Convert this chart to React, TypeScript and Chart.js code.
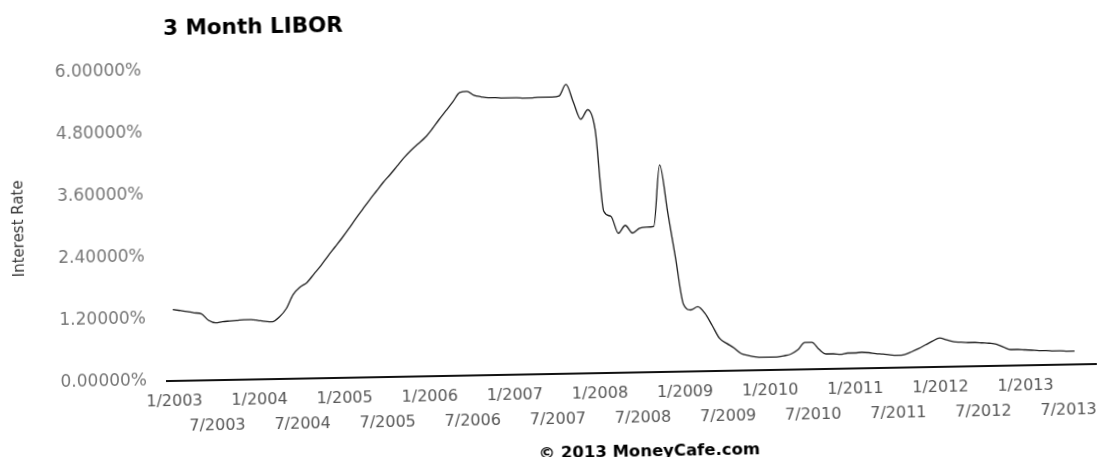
import React, { useEffect, useRef } from 'react';
import { Chart, registerables } from 'chart.js';

Chart.register(...registerables);

const TITLE = '3 Month LIBOR';
const FOOTER = '\u00A9 2013 MoneyCafe.com';
const Y_TITLE = 'Interest Rate';

// Monthly 3-month LIBOR (%), Jan of each year first
const rates2003 = [1.38, 1.36, 1.34, 1.31, 1.29, 1.16, 1.11, 1.13, 1.14, 1.15, 1.16, 1.16];
const rates2004 = [1.14, 1.12, 1.11, 1.20, 1.36, 1.63, 1.77, 1.86, 2.02, 2.18, 2.36, 2.53];
const rates2005 = [2.70, 2.88, 3.07, 3.25, 3.43, 3.60, 3.77, 3.92, 4.08, 4.24, 4.38, 4.50];
const rates2006 = [4.62, 4.78, 4.96, 5.13, 5.30, 5.48, 5.50, 5.42, 5.39, 5.37, 5.37, 5.36];
const rates2007 = [5.36, 5.36, 5.35, 5.35, 5.36, 5.36, 5.36, 5.38, 5.60, 5.25, 4.92, 5.10];
const rates2008 = [4.71, 3.13, 3.03, 2.70, 2.85, 2.70, 2.79, 2.81, 2.82, 4.01, 3.10, 2.20];
const rates2009 = [1.30, 1.19, 1.25, 1.12, 0.88, 0.63, 0.53, 0.44, 0.33, 0.29, 0.26, 0.25];
const rates2010 = [0.25, 0.25, 0.27, 0.30, 0.38, 0.52, 0.52, 0.38, 0.29, 0.29, 0.28, 0.30];
const rates2011 = [0.30, 0.31, 0.30, 0.28, 0.27, 0.25, 0.24, 0.25, 0.30, 0.36, 0.43, 0.50];
const rates2012 = [0.56, 0.52, 0.48, 0.47, 0.46, 0.46, 0.45, 0.44, 0.42, 0.36, 0.31, 0.31];
const rates2013 = [0.30, 0.29, 0.28, 0.28, 0.27, 0.27, 0.26, 0.26];

const rates = [
  ...rates2003, ...rates2004, ...rates2005, ...rates2006, ...rates2007, ...rates2008,
  ...rates2009, ...rates2010, ...rates2011, ...rates2012, ...rates2013,
];

const tickLabels = [
  '1/2003', '7/2003', '1/2004', '7/2004', '1/2005', '7/2005', '1/2006', '7/2006',
  '1/2007', '7/2007', '1/2008', '7/2008', '1/2009', '7/2009', '1/2010', '7/2010',
  '1/2011', '7/2011', '1/2012', '7/2012', '1/2013', '7/2013',
];
const tickMonths = tickLabels.map((_, i) => i * 6);
const yTicks = [0, 1.2, 2.4, 3.6, 4.8, 6.0];

const CANVAS_W = 1105;
const CANVAS_H = 480;

const textPlugin = {
  id: 'extraTexts',
  afterDraw(chart: any) {
    const ctx = chart.ctx;
    ctx.save();
    ctx.fillStyle = '#000';
    ctx.textBaseline = 'alphabetic';
    ctx.font = 'bold 21.5px "DejaVu Sans"';
    ctx.textAlign = 'left';
    ctx.fillText(TITLE, 169.5, 35);
    ctx.font = 'bold 16.5px "DejaVu Sans"';
    ctx.textAlign = 'center';
    ctx.fillText(FOOTER, 648, 465);
    ctx.restore();
  },
};

export default function App() {
  const ref = useRef<HTMLCanvasElement | null>(null);

  useEffect(() => {
    if (!ref.current) return;
    const chart = new Chart(ref.current, {
      type: 'line',
      data: {
        datasets: [
          {
            label: Y_TITLE,
            data: rates.map((v, i) => ({ x: i, y: v })),
            borderColor: '#1e1e1e',
            borderWidth: 1.3,
            pointRadius: 0,
            cubicInterpolationMode: 'monotone',
            fill: false,
          },
        ],
      },
      options: {
        responsive: false,
        animation: false,
        devicePixelRatio: 1,
        layout: { padding: { top: 71, left: 0, right: 0, bottom: 0 } },
        plugins: {
          legend: { display: false },
          tooltip: { enabled: false },
          title: { display: false },
        },
        scales: {
          x: {
            type: 'linear',
            min: -1,
            max: 130,
            grid: { display: false, drawTicks: false },
            border: { display: true, color: '#111', width: 2 },
            afterBuildTicks: (scale: any) => {
              scale.ticks = tickMonths.map((v) => ({ value: v }));
            },
            afterFit: (scale: any) => {
              scale.height = CANVAS_H - 381;
            },
            ticks: {
              autoSkip: false,
              maxRotation: 0,
              minRotation: 0,
              padding: 9,
              color: '#555',
              font: { family: '"DejaVu Sans"', size: 16, lineHeight: 1.53 },
              callback: (value: any) => {
                const idx = tickMonths.indexOf(Number(value));
                if (idx < 0) return '';
                return idx % 2 === 0 ? [tickLabels[idx], ''] : ['', tickLabels[idx]];
              },
            },
          },
          y: {
            type: 'linear',
            min: 0,
            max: 6,
            grid: { display: false, drawTicks: false },
            border: { display: false },
            afterBuildTicks: (scale: any) => {
              scale.ticks = yTicks.map((v) => ({ value: v }));
            },
            afterFit: (scale: any) => {
              scale.width = 167;
            },
            ticks: {
              padding: 20,
              color: '#777',
              font: { family: '"DejaVu Sans"', size: 17 },
              callback: (value: any) => Number(value).toFixed(5) + '%',
            },
            title: {
              display: true,
              text: Y_TITLE,
              color: '#333',
              font: { family: '"DejaVu Sans"', size: 15 },
              padding: { top: 13, bottom: 0 },
            },
          },
        },
      },
      plugins: [textPlugin],
    });
    return () => chart.destroy();
  }, []);

  return (
    <div
      style={{
        position: 'absolute',
        left: 0,
        top: 0,
        width: CANVAS_W,
        height: CANVAS_H,
        transform: 'rotate(-1.05deg)',
        transformOrigin: '170px 381px',
      }}
    >
      <canvas
        ref={ref}
        width={CANVAS_W}
        height={CANVAS_H}
        style={{ width: CANVAS_W, height: CANVAS_H, display: 'block' }}
      />
    </div>
  );
}
